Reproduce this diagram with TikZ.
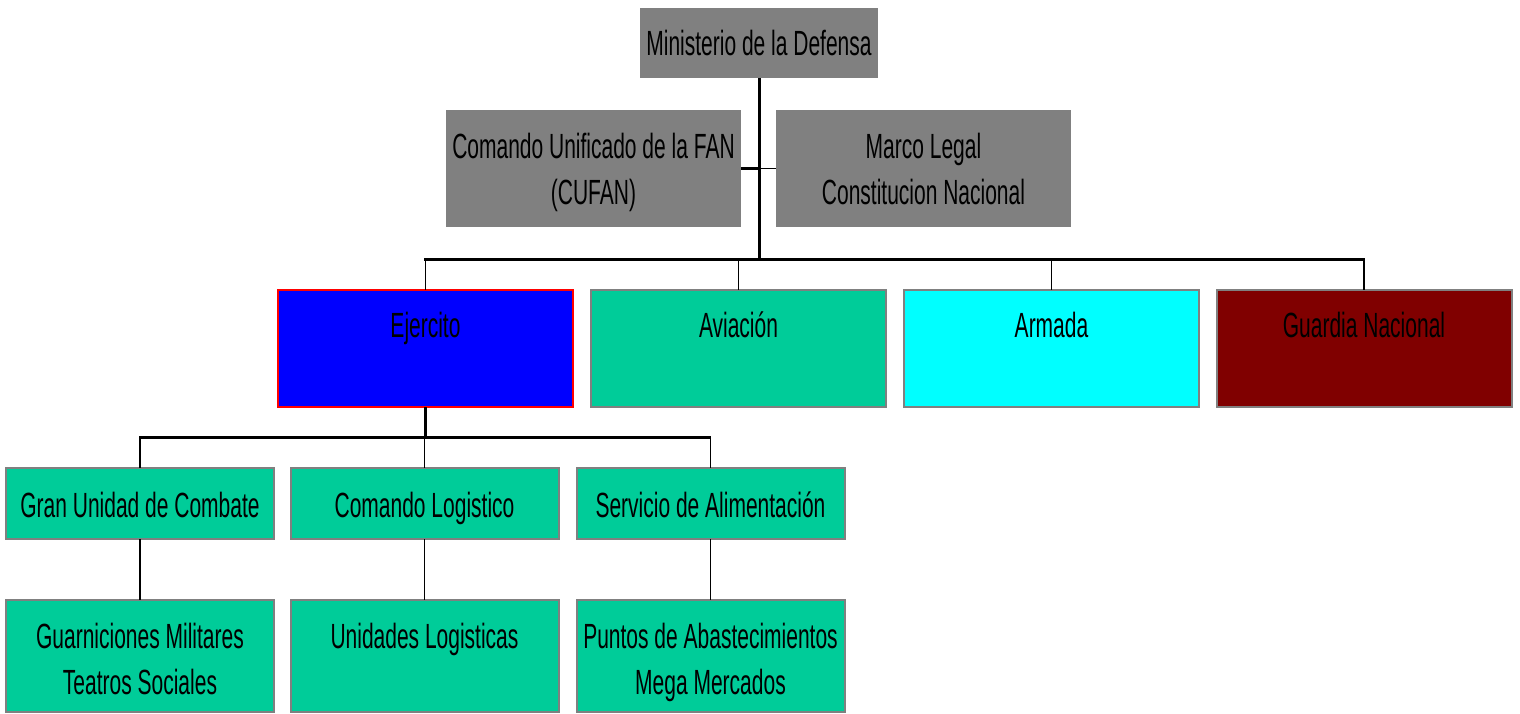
\documentclass[tikz,border=0pt]{standalone}
\usepackage{fontspec}
\setmainfont[FakeStretch=0.6]{Liberation Sans}
\definecolor{boxgray}{HTML}{808080}
\definecolor{teal2}{HTML}{00CC99}
\definecolor{cyan2}{HTML}{00FFFF}
\definecolor{maroon2}{HTML}{800000}
\definecolor{blue2}{HTML}{0000FF}
\definecolor{red2}{HTML}{FF0000}
\begin{document}
\begin{tikzpicture}[x=0.5pt,y=-0.5pt,
  base/.style={rectangle,inner sep=0pt,outer sep=0pt},
  topbox/.style={base,fill=boxgray,minimum width=147.5pt,minimum height=58.5pt},
  lvbox/.style={base,draw=boxgray,line width=1pt,minimum width=147.5pt,minimum height=58.5pt},
  smbox/.style={base,draw=boxgray,line width=1pt,fill=teal2,minimum width=134pt},
  txt/.style={inner sep=0pt,outer sep=0pt,align=center,anchor=base,font=\fontsize{17.5}{23}\selectfont},
  thickc/.style={line width=1.5pt},
  thinc/.style={line width=0.6pt}]
\useasboundingbox (0,0) rectangle (1520,713);
% top level
\node[topbox,minimum width=119pt,minimum height=35pt] (min) at (759,43) {};
\node[topbox] (cuf) at (593.5,168.5) {};
\node[topbox] (mar) at (923.5,168.5) {};
\node[txt] (tmin) at (759,55) {Ministerio de la Defensa};
\node[txt] (tcuf) at (593.5,204) {Comando Unificado de la FAN\\(CUFAN)};
\node[txt] (tmar) at (923.5,204) {Marco Legal\\Constitucion Nacional};
% second level
\node[lvbox,fill=blue2,draw=red2] (ej) at (425.5,348.5) {};
\node[lvbox,fill=teal2] (av) at (738.5,348.5) {};
\node[lvbox,fill=cyan2] (ar) at (1051.5,348.5) {};
\node[lvbox,fill=maroon2] (gn) at (1364,348.5) {};
\node[txt] (tej) at (425.5,337) {Ejercito};
\node[txt] (tav) at (738.5,337) {Aviación};
\node[txt] (tar) at (1051.5,337) {Armada};
\node[txt] (tgn) at (1364,337) {Guardia Nacional};
% third level
\node[smbox,minimum height=35.5pt] (gu) at (140,503.5) {};
\node[smbox,minimum height=35.5pt] (cl) at (424.5,503.5) {};
\node[smbox,minimum height=35.5pt] (sa) at (710.5,503.5) {};
\node[txt] (tgu) at (140,517) {Gran Unidad de Combate};
\node[txt] (tcl) at (424.5,517) {Comando Logistico};
\node[txt] (tsa) at (710.5,517) {Servicio de Alimentación};
% fourth level
\node[smbox,minimum height=56pt] (gm) at (140,656) {};
\node[smbox,minimum height=56pt] (ul) at (424.5,656) {};
\node[smbox,minimum height=56pt] (pa) at (710.5,656) {};
\node[txt] (tgm) at (140,694) {Guarniciones Militares\\Teatros Sociales};
\node[txt] (tul) at (424.5,648) {Unidades Logisticas};
\node[txt] (tpa) at (710.5,694) {Puntos de Abastecimientos\\Mega Mercados};
% connectors
\coordinate (b1) at (0,259);
\coordinate (b2) at (0,437);
\draw[thickc] (min.south) -- (min.south |- b1);
\draw[thickc] (cuf.east) -- (cuf.east -| min.south);
\draw[thinc] (mar.west -| min.south) -- (mar.west);
\draw[thickc] ([xshift=-0.75pt]ej.north |- b1) -- ([xshift=0.3pt]gn.north |- b1);
\draw[thinc] (ej.north |- b1) -- (ej.north);
\draw[thinc] (av.north |- b1) -- (av.north);
\draw[thinc] (ar.north |- b1) -- (ar.north);
\draw[thinc] (gn.north |- b1) -- (gn.north);
\draw[thickc] (ej.south) -- (ej.south |- b2);
\draw[thickc] ([xshift=-0.3pt]gu.north |- b2) -- ([xshift=0.3pt]sa.north |- b2);
\draw[thinc] (gu.north |- b2) -- (gu.north);
\draw[thinc] (cl.north |- b2) -- (cl.north);
\draw[thinc] (sa.north |- b2) -- (sa.north);
\draw[thinc] (gu.south) -- (gm.north);
\draw[thinc] (cl.south) -- (ul.north);
\draw[thinc] (sa.south) -- (pa.north);
\end{tikzpicture}
\end{document}
